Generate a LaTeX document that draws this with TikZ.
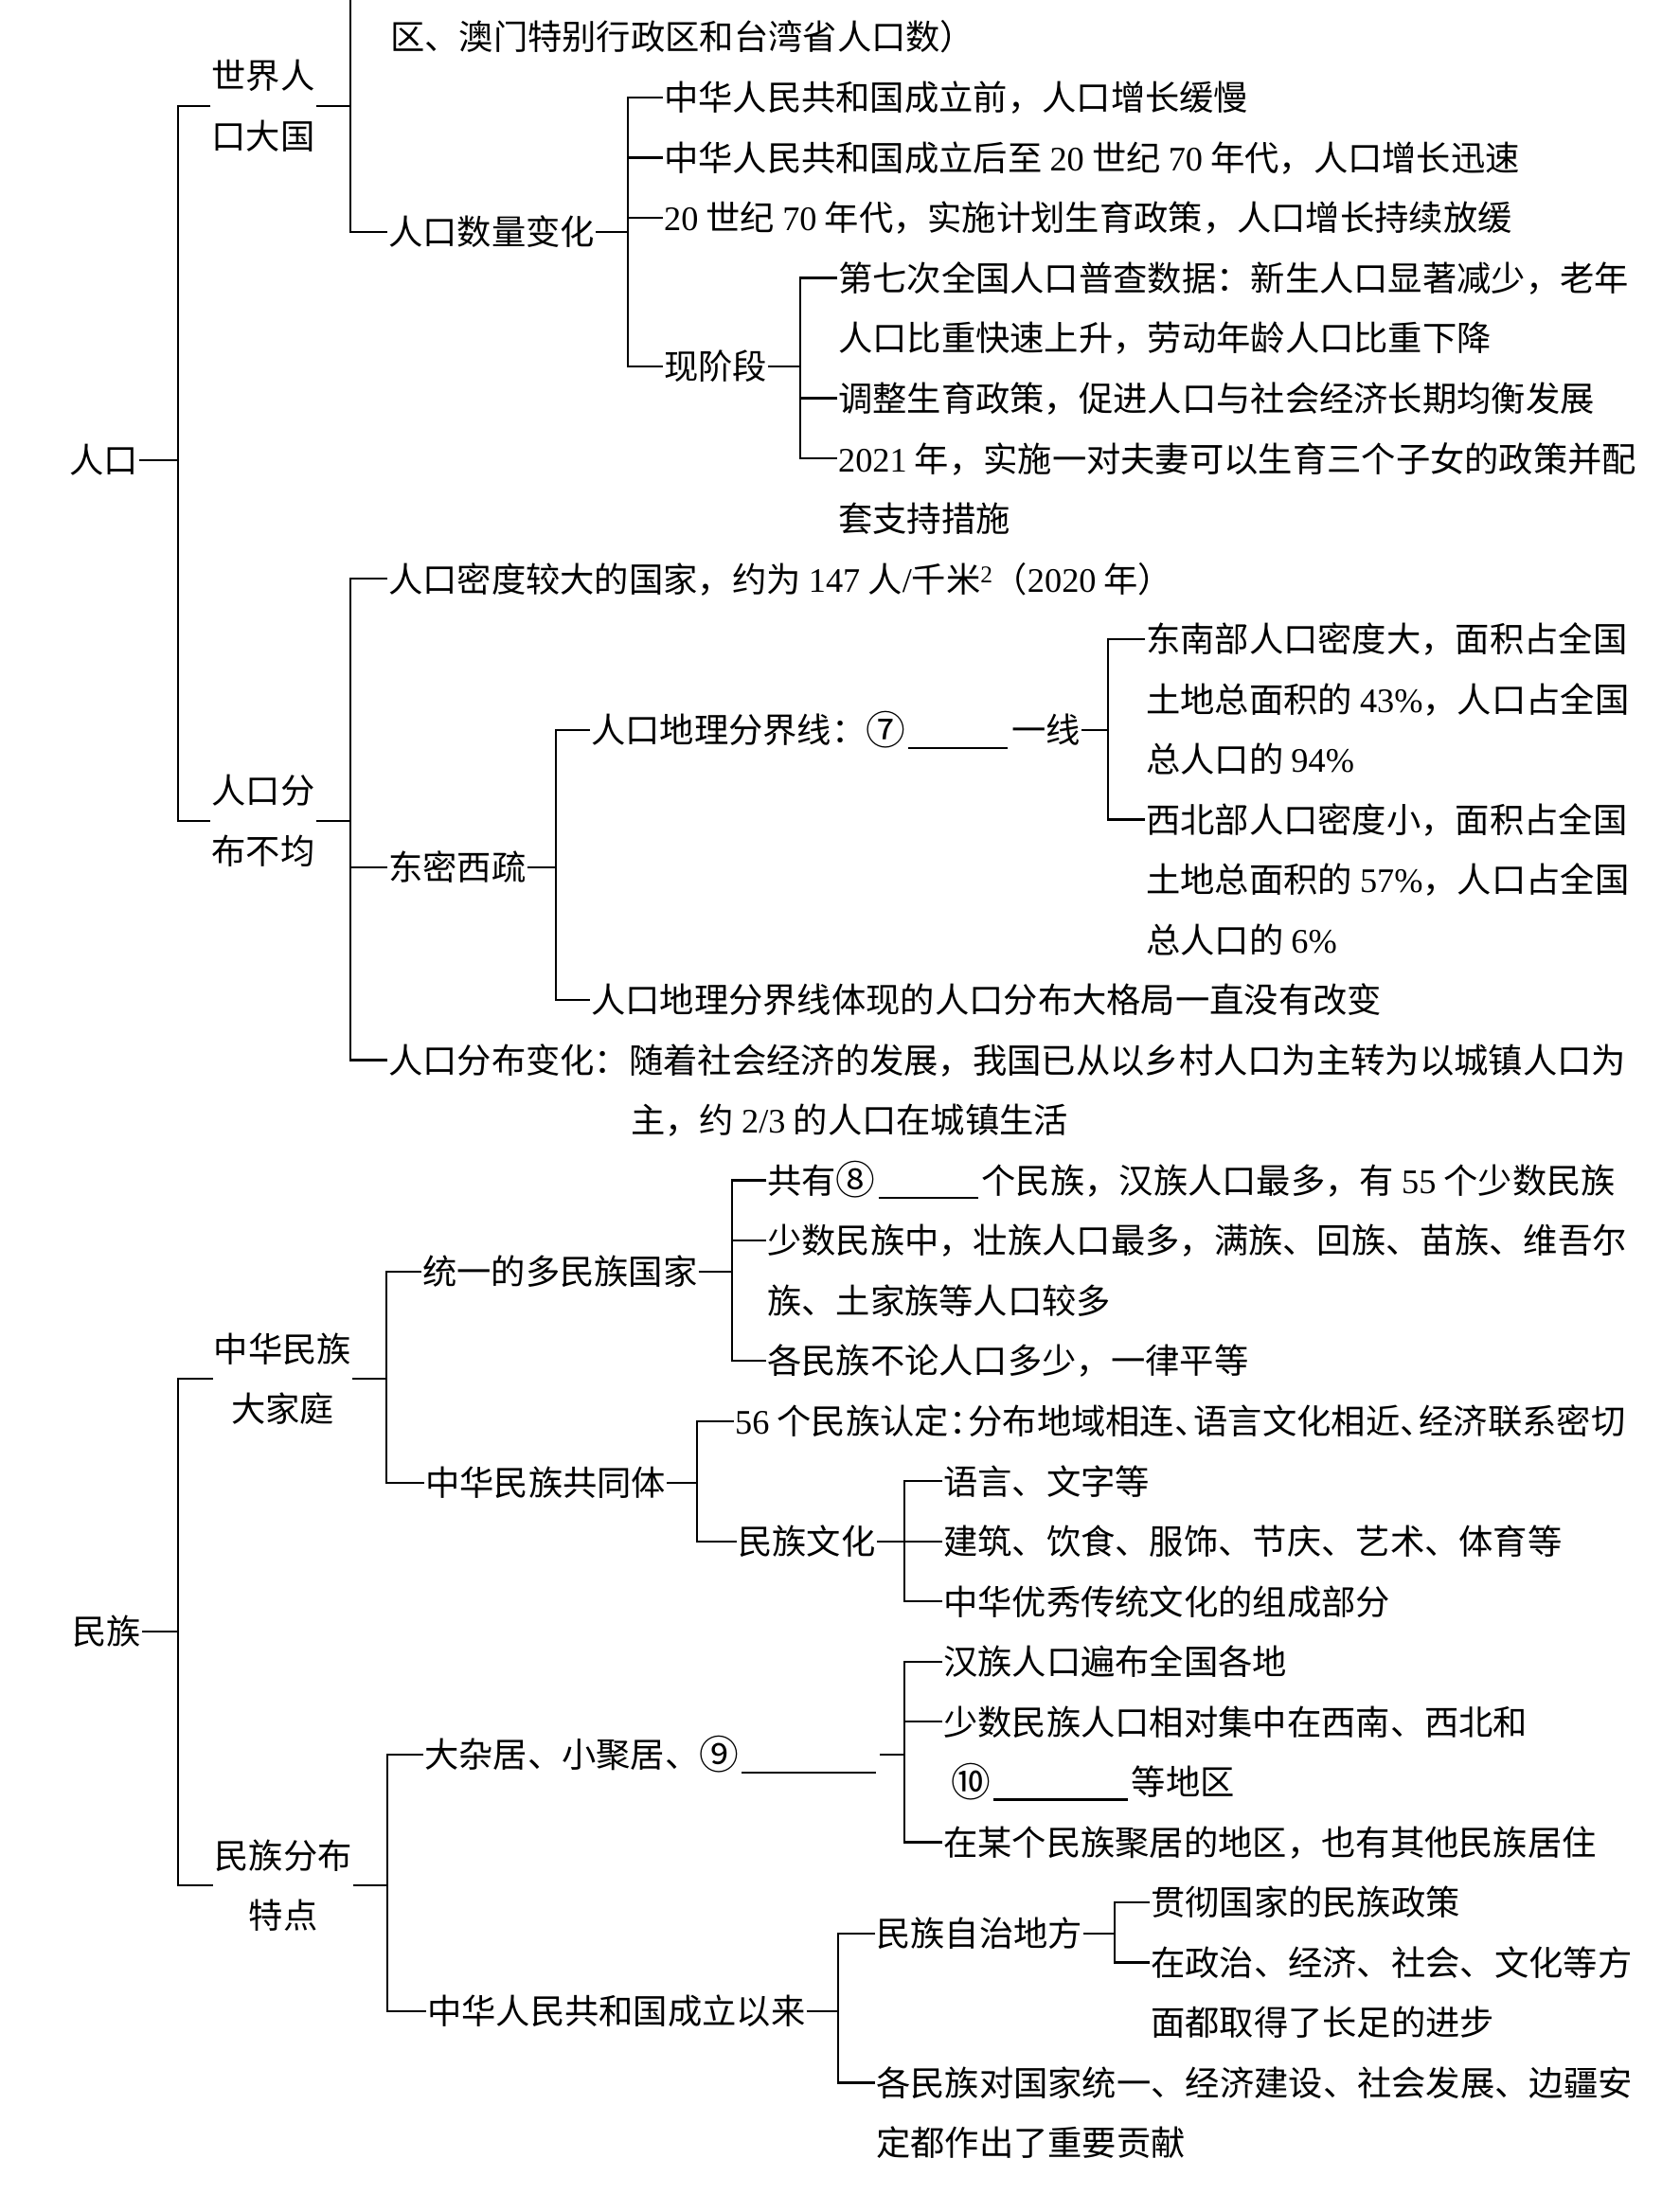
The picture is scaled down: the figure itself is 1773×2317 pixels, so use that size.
\documentclass[tikz,border=0pt]{standalone}
\usepackage{fontspec}
\usepackage{graphicx}
\setmainfont{Noto Sans CJK SC}
\newfontfamily\latf{Liberation Serif}
\newcommand{\dg}[1]{{\latf #1}}
\newcommand{\blankline}[1]{\hspace{3pt}\rule[-6pt]{#1}{2.2pt}\hspace{4pt}}
\newcommand{\circnum}[1]{\raisebox{-1.5pt}{\scalebox{1.15}{#1}}}
\newcommand{\sqz}[1]{#1\hspace{-16pt}}
\begin{document}
\begin{tikzpicture}[x=1pt,y=-1pt,line width=2.3pt,
  font=\fontsize{36.3pt}{63.53pt}\selectfont,
  itm/.style={anchor=west,inner sep=0pt,text height=32pt,text depth=4.4pt},
  two/.style={align=center,inner sep=0pt}]
\fill[white] (0,0) rectangle (1773,2317);
\useasboundingbox (0,0) rectangle (1773,2317);
% vertical line positions
\coordinate (X1) at (188,0);
\coordinate (X2) at (370,0);
\coordinate (top2) at (370,0);
\coordinate (X3) at (663,0);
\coordinate (X4) at (845,0);
\coordinate (X5) at (370,0);
\coordinate (X6) at (587,0);
\coordinate (X7) at (1170,0);
\coordinate (X8) at (188,0);
\coordinate (X9) at (408,0);
\coordinate (X10) at (773,0);
\coordinate (X11) at (736,0);
\coordinate (X12) at (955,0);
\coordinate (X13) at (409,0);
\coordinate (X14) at (955,0);
\coordinate (X15) at (885,0);
\coordinate (X16) at (1177,0);
% ---------- 人口 ----------
\node[itm,anchor=east] (rk) at (147,486) {人口};
\node[itm] (r0) at (411,39) {区、澳门特别行政区和台湾省人口数）};
\node[two] (sj) at (278,111.7) {世界人\\口大国};
\node[itm] (slbh) at (409,245) {人口数量变化};
\node[itm] (a1) at (700,103.0) {中华人民共和国成立前，人口增长缓慢};
\node[itm] (a2) at (700,166.5) {中华人民共和国成立后至 \dg{20} 世纪 \dg{70} 年代，人口增长迅速};
\node[itm] (a3) at (700,230.1) {\dg{20} 世纪 \dg{70} 年代，实施计划生育政策，人口增长持续放缓};
\node[itm] (xjd) at (700,387) {现阶段};
\node[itm] (b1) at (884,293.6) {第七次全国人口普查数据：新生人口显著减少，老年};
\node[itm] (b1c) at (884,357.1) {人口比重快速上升，劳动年龄人口比重下降};
\node[itm] (b2) at (884,420.6) {调整生育政策，促进人口与社会经济长期均衡发展};
\node[itm] (b3) at (884,484.2) {\dg{2021} 年，实施一对夫妻可以生育三个子女的政策并配};
\node[itm] (b3c) at (884,547.7) {套支持措施};
\node[two] (rkfb) at (278,867) {人口分\\布不均};
\node[itm] (c1) at (409,611.2) {人口密度较大的国家，约为 \dg{147} 人\dg{/}千米\textsuperscript{\dg{2}}（\dg{2020} 年）};
\node[itm] (dmxs) at (409,916) {东密西疏};
\node[itm] (fjx) at (623,771) {人口地理分界线：\circnum{⑦}\blankline{105pt}一线};
\node[itm] (d1) at (1209,674.8) {东南部人口密度大，面积占全国};
\node[itm] (d1b) at (1209,738.3) {土地总面积的 \dg{43\%}，人口占全国};
\node[itm] (d1c) at (1209,801.8) {总人口的 \dg{94\%}};
\node[itm] (d2) at (1209,865.4) {西北部人口密度小，面积占全国};
\node[itm] (d2b) at (1209,928.9) {土地总面积的 \dg{57\%}，人口占全国};
\node[itm] (d2c) at (1209,992.4) {总人口的 \dg{6\%}};
\node[itm] (tx) at (623,1056.0) {人口地理分界线体现的人口分布大格局一直没有改变};
\node[itm] (c3) at (409,1119.5) {人口分布变化：随着社会经济的发展，我国已从以乡村人口为主转为以城镇人口为};
\node[itm] (c3c) at (665,1183.0) {主，约 \dg{2/3} 的人口在城镇生活};
% ---------- 民族 ----------
\node[itm,anchor=east] (mz) at (150,1723) {民族};
\node[two] (zjdt) at (298.5,1456) {中华民族\\大家庭};
\node[itm] (tyd) at (445,1343) {统一的多民族国家};
\node[itm] (gtt) at (448,1566) {中华民族共同体};
\node[itm] (e1) at (809,1246.5) {共有\circnum{⑧}\blankline{105pt}个民族，汉族人口最多，有 \dg{55} 个少数民族};
\node[itm] (e2) at (809,1310.1) {少数民族中，壮族人口最多，满族、回族、苗族、维吾尔};
\node[itm] (e2c) at (809,1373.6) {族、土家族等人口较多};
\node[itm] (e3) at (809,1437.1) {各民族不论人口多少，一律平等};
\node[itm] (f1) at (775,1500.7) {\dg{56} 个民族认定\sqz{：}分布地域相连\sqz{、}语言文化相近\sqz{、}经济联系密切};
\node[itm] (mzwh) at (778,1628) {民族文化};
\node[itm] (g1) at (995,1564.2) {语言、文字等};
\node[itm] (g2) at (995,1627.7) {建筑、饮食、服饰、节庆、艺术、体育等};
\node[itm] (g3) at (995,1691.3) {中华优秀传统文化的组成部分};
\node[two] (mzfb) at (299,1991) {民族分布\\特点};
\node[itm] (dzj) at (447,1853) {大杂居、小聚居、\circnum{⑨}\hspace{3pt}\rule[-6pt]{142pt}{2.2pt}};
\node[itm] (h1) at (995,1754.8) {汉族人口遍布全国各地};
\node[itm] (h2) at (995,1818.3) {少数民族人口相对集中在西南、西北和};
\node[itm] (h2c) at (995,1881.8) {\hspace{8pt}\circnum{⑩}\blankline{142pt}等地区};
\node[itm] (h3) at (995,1945.4) {在某个民族聚居的地区，也有其他民族居住};
\node[itm] (zhrm) at (450,2124) {中华人民共和国成立以来};
\node[itm] (mzzz) at (924,2042) {民族自治地方};
\node[itm] (j1) at (1214,2008.9) {贯彻国家的民族政策};
\node[itm] (j2) at (1214,2072.4) {在政治、经济、社会、文化等方};
\node[itm] (j2c) at (1214,2136.0) {面都取得了长足的进步};
\node[itm] (i2) at (924,2199.5) {各民族对国家统一、经济建设、社会发展、边疆安};
\node[itm] (i2c) at (924,2263.0) {定都作出了重要贡献};
% ---------- connectors ----------
\draw (rk.east) -- (rk.east -| X1);
\draw (sj.west) -- (sj.west -| X1) -- (rkfb.west -| X1) -- (rkfb.west);
\draw (sj.east) -- (sj.east -| X2);
\draw (top2) -- (slbh.west -| X2) -- (slbh.west);
\draw (slbh.east) -- (slbh.east -| X3);
\draw (a1.west) -- (a1.west -| X3) -- (xjd.west -| X3) -- (xjd.west);
\draw (a2.west) -- (a2.west -| X3);
\draw (a3.west) -- (a3.west -| X3);
\draw (xjd.east) -- (xjd.east -| X4);
\draw (b1.west) -- (b1.west -| X4) -- (b3.west -| X4) -- (b3.west);
\draw (b2.west) -- (b2.west -| X4);
\draw (rkfb.east) -- (rkfb.east -| X5);
\draw (c1.west) -- (c1.west -| X5) -- (c3.west -| X5) -- (c3.west);
\draw (dmxs.west) -- (dmxs.west -| X5);
\draw (dmxs.east) -- (dmxs.east -| X6);
\draw (fjx.west) -- (fjx.west -| X6) -- (tx.west -| X6) -- (tx.west);
\draw (fjx.east) -- (fjx.east -| X7);
\draw (d1.west) -- (d1.west -| X7) -- (d2.west -| X7) -- (d2.west);
\draw (mz.east) -- (mz.east -| X8);
\draw (zjdt.west) -- (zjdt.west -| X8) -- (mzfb.west -| X8) -- (mzfb.west);
\draw (zjdt.east) -- (zjdt.east -| X9);
\draw (tyd.west) -- (tyd.west -| X9) -- (gtt.west -| X9) -- (gtt.west);
\draw (tyd.east) -- (tyd.east -| X10);
\draw (e1.west) -- (e1.west -| X10) -- (e3.west -| X10) -- (e3.west);
\draw (e2.west) -- (e2.west -| X10);
\draw (gtt.east) -- (gtt.east -| X11);
\draw (f1.west) -- (f1.west -| X11) -- (mzwh.west -| X11) -- (mzwh.west);
\draw (mzwh.east) -- (mzwh.east -| X12);
\draw (g1.west) -- (g1.west -| X12) -- (g3.west -| X12) -- (g3.west);
\draw (g2.west) -- (g2.west -| X12);
\draw (mzfb.east) -- (mzfb.east -| X13);
\draw (dzj.west) -- (dzj.west -| X13) -- (zhrm.west -| X13) -- (zhrm.west);
\draw (dzj.east) ++(3,0) -- (dzj.east -| X14);
\draw (h1.west) -- (h1.west -| X14) -- (h3.west -| X14) -- (h3.west);
\draw (h2.west) -- (h2.west -| X14);
\draw (zhrm.east) -- (zhrm.east -| X15);
\draw (mzzz.west) -- (mzzz.west -| X15) -- (i2.west -| X15) -- (i2.west);
\draw (mzzz.east) -- (mzzz.east -| X16);
\draw (j1.west) -- (j1.west -| X16) -- (j2.west -| X16) -- (j2.west);
\end{tikzpicture}
\end{document}
